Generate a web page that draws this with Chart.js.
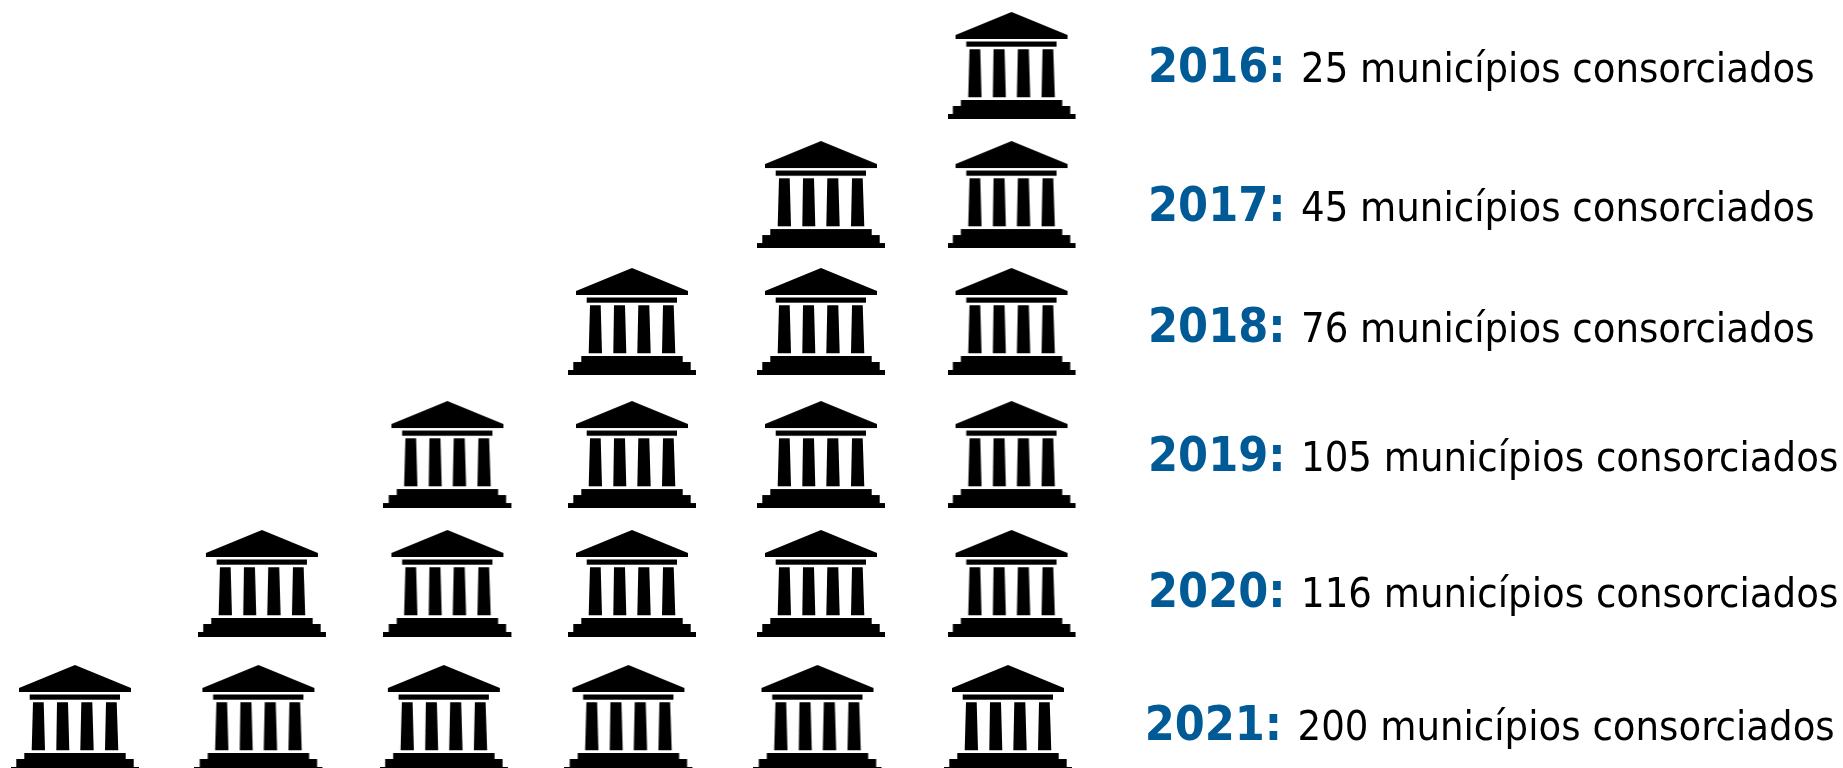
<!DOCTYPE html>
<html>
<head>
<meta charset="utf-8">
<title>Municípios consorciados</title>
<script src="https://cdn.jsdelivr.net/npm/chart.js@4"></script>
<style>
  html, body { margin: 0; padding: 0; background: #ffffff; overflow: hidden; }
  #wrap { width: 1843px; height: 768px; }
</style>
</head>
<body>
<div id="wrap"><canvas id="myChart" width="1843" height="768"></canvas></div>
<script>
// Dados
const anos = ['2016', '2017', '2018', '2019', '2020', '2021'];
const municipios = [25, 45, 76, 105, 116, 200];
const icones = [1, 2, 3, 4, 5, 6];
const sufixo = ' municípios consorciados';

// Layout in axis units: the grid in the picture is not quite even
const colunaPos = [1, 1.983, 2.977, 3.966, 4.979, 6];
const linhaPos = [6, 5.012, 4.04, 3.021, 2.034, 1];
const ajusteLinha = [0, 0, 0, 0, 0, -0.019];
const textoLinha = [5.874, 4.809, 3.883, 2.895, 1.854, 0.836];
const textoAno = [6.729, 6.729, 6.729, 6.729, 6.729, 6.711];
const textoValor = [7.549, 7.549, 7.549, 7.549, 7.549, 7.53];

// Icone do prédio, desenhado uma vez e usado como pointStyle
function criaIcone() {
    const c = document.createElement('canvas');
    c.width = 129;
    c.height = 107;
    const g = c.getContext('2d');
    g.fillStyle = '#000000';
    // frontão
    g.beginPath();
    g.moveTo(64, 0);
    g.lineTo(120, 23);
    g.lineTo(120, 27);
    g.lineTo(8, 27);
    g.lineTo(8, 23);
    g.closePath();
    g.fill();
    // viga
    g.fillRect(18.7, 29.5, 90.3, 5.2);
    // colunas
    [[22, 32.7, 20.7, 34], [46, 57, 45.3, 58.3], [70.3, 81.3, 69.3, 82.7], [95, 105.7, 94, 107.3]].forEach(function(p) {
        g.beginPath();
        g.moveTo(p[0], 37.3);
        g.lineTo(p[1], 37.3);
        g.lineTo(p[3], 85.3);
        g.lineTo(p[2], 85.3);
        g.closePath();
        g.fill();
    });
    // degraus
    g.fillRect(13.3, 88, 101.4, 7);
    g.fillRect(5.3, 94, 117.4, 9);
    g.fillRect(0, 102, 128, 5);
    return c;
}

const pontos = [];
anos.forEach(function(ano, l) {
    for (let i = 0; i < icones[l]; i++) {
        const c = colunaPos.length - 1 - i;
        pontos.push({ x: colunaPos[c] + ajusteLinha[l], y: linhaPos[l] });
    }
});

// Rótulos à direita, posicionados pelas escalas do gráfico
const rotulos = {
    id: 'rotulos',
    afterDatasetsDraw: function(chart) {
        const g = chart.ctx;
        const sx = chart.scales.x;
        const sy = chart.scales.y;
        g.save();
        g.textBaseline = 'alphabetic';
        g.textAlign = 'left';
        anos.forEach(function(ano, l) {
            const y = sy.getPixelForValue(textoLinha[l]);
            g.font = 'bold 48px "DejaVu Sans Condensed", "DejaVu Sans"';
            g.fillStyle = '#005a96';
            g.fillText(ano + ':', sx.getPixelForValue(textoAno[l]), y);
            g.font = '41.3px "DejaVu Sans Condensed", "DejaVu Sans"';
            g.fillStyle = '#000000';
            g.fillText(municipios[l] + sufixo, sx.getPixelForValue(textoValor[l]), y);
        });
        g.restore();
    }
};

document.addEventListener('DOMContentLoaded', function() {
    const ctx = document.getElementById('myChart').getContext('2d');
    new Chart(ctx, {
        type: 'scatter',
        data: {
            datasets: [{
                label: 'Municípios consorciados',
                data: pontos,
                pointStyle: criaIcone(),
                pointRadius: 54,
                pointHoverRadius: 54,
                clip: false
            }]
        },
        options: {
            responsive: false,
            animation: false,
            layout: { padding: 0, autoPadding: false },
            plugins: { legend: { display: false }, tooltip: { enabled: false } },
            scales: {
                x: { type: 'linear', display: false, min: 0.5766, max: 10.4533 },
                y: { type: 'linear', display: false, min: 0.6209, max: 6.5015 }
            }
        },
        plugins: [rotulos]
    });
});
</script>
</body>
</html>
